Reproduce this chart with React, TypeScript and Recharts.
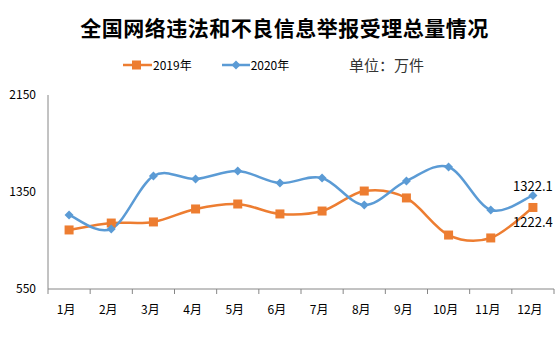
import { Line, LineChart, XAxis, YAxis } from "recharts";

// 月份与两年的受理量（万件）
const months = ["1月", "2月", "3月", "4月", "5月", "6月", "7月", "8月", "9月", "10月", "11月", "12月"];
const values2019 = [1037, 1094, 1103, 1210, 1251, 1169, 1193, 1358, 1301, 995, 971, 1222.4];
const values2020 = [1160, 1045, 1482, 1457, 1523, 1424, 1466, 1243, 1441, 1556, 1202, 1322.1];
const yTicks = [550, 1350, 2150];

const COLOR_2019 = "#ED7D31";
const COLOR_2020 = "#5B9BD5";
const COLOR_AXIS = "#868686";
const FONT = '"Noto Sans CJK SC", "Noto Sans", sans-serif';

const WIDTH = 557;
const HEIGHT = 353;
const PLOT_LEFT = 48;
const PLOT_RIGHT = 554;
const PLOT_BOTTOM = 289;
const BAND = (PLOT_RIGHT - PLOT_LEFT) / months.length;

const data = months.map((m, i) => ({
  month: m,
  y2019: values2019[i],
  y2020: values2020[i],
}));

// Excel 风格的平滑曲线（Catmull-Rom 转贝塞尔）
function excelSmooth(context: any) {
  let pts: [number, number][] = [];
  return {
    areaStart() {},
    areaEnd() {},
    lineStart() {
      pts = [];
    },
    point(x: number, y: number) {
      pts.push([+x, +y]);
    },
    lineEnd() {
      if (!pts.length) return;
      context.moveTo(pts[0][0], pts[0][1]);
      for (let i = 0; i < pts.length - 1; i++) {
        const p0 = pts[i - 1] || pts[i];
        const p1 = pts[i];
        const p2 = pts[i + 1];
        const p3 = pts[i + 2] || pts[i + 1];
        context.bezierCurveTo(
          p1[0] + (p2[0] - p0[0]) / 6,
          p1[1] + (p2[1] - p0[1]) / 6,
          p2[0] - (p3[0] - p1[0]) / 6,
          p2[1] - (p3[1] - p1[1]) / 6,
          p2[0],
          p2[1],
        );
      }
    },
  };
}

function SquareDot(props: any) {
  const { cx, cy } = props;
  if (cx == null || cy == null) return null;
  return <rect x={cx - 4.5} y={cy - 4.5} width={9} height={9} fill={COLOR_2019} />;
}

function DiamondDot(props: any) {
  const { cx, cy } = props;
  if (cx == null || cy == null) return null;
  return (
    <path
      d={`M${cx},${cy - 4.5} L${cx + 4.5},${cy} L${cx},${cy + 4.5} L${cx - 4.5},${cy} Z`}
      fill={COLOR_2020}
    />
  );
}

function makeLastLabel(dy: number) {
  return (props: any) => {
    const { x, y, index, value } = props;
    if (index !== months.length - 1) return null;
    return (
      <text x={x} y={y + dy} textAnchor="middle" fontSize={13} fill="#000" fontFamily={FONT}>
        {value}
      </text>
    );
  };
}

function MonthTick(props: any) {
  const { x, payload, index } = props;
  return (
    <g>
      <line x1={x - BAND / 2} y1={PLOT_BOTTOM} x2={x - BAND / 2} y2={PLOT_BOTTOM + 5} stroke={COLOR_AXIS} />
      {index === months.length - 1 && (
        <line x1={x + BAND / 2} y1={PLOT_BOTTOM} x2={x + BAND / 2} y2={PLOT_BOTTOM + 5} stroke={COLOR_AXIS} />
      )}
      <text x={x - 3} y={PLOT_BOTTOM + 25} textAnchor="middle" fontSize={12} fill="#000" fontFamily={FONT}>
        {payload.value}
      </text>
    </g>
  );
}

export default function App() {
  return (
    <div style={{ position: "absolute", left: 0, top: 0, width: WIDTH, height: HEIGHT, background: "#fff", fontFamily: FONT }}>
      <div
        style={{
          position: "absolute",
          left: 0,
          width: WIDTH,
          top: 13,
          textAlign: "center",
          fontSize: 21,
          fontWeight: 700,
          letterSpacing: 0.5,
          color: "#000",
          paddingLeft: 12,
          boxSizing: "border-box",
          lineHeight: "28px",
        }}
      >
        全国网络违法和不良信息举报受理总量情况
      </div>

      {/* 图例 */}
      <div style={{ position: "absolute", left: 123, top: 56, display: "flex", alignItems: "center", fontSize: 12, lineHeight: "18px" }}>
        <svg width={29} height={12}>
          <line x1={0} y1={6} x2={29} y2={6} stroke={COLOR_2019} strokeWidth={2.5} />
          <rect x={9} y={1.5} width={9} height={9} fill={COLOR_2019} />
        </svg>
        <span style={{ marginLeft: 1 }}>2019年</span>
        <svg width={28} height={12} style={{ marginLeft: 30 }}>
          <line x1={0} y1={6} x2={28} y2={6} stroke={COLOR_2020} strokeWidth={2.5} />
          <path d="M14,1.5 L18.5,6 L14,10.5 L9.5,6 Z" fill={COLOR_2020} />
        </svg>
        <span style={{ marginLeft: 1 }}>2020年</span>
      </div>
      <div style={{ position: "absolute", left: 349, top: 55, fontSize: 15, color: "#333", lineHeight: "20px" }}>
        单位：万件
      </div>

      <LineChart
        width={WIDTH}
        height={HEIGHT}
        data={data}
        margin={{ top: 95, right: WIDTH - PLOT_RIGHT, bottom: HEIGHT - PLOT_BOTTOM - 30, left: 0 }}
      >
        <XAxis
          dataKey="month"
          height={30}
          padding={{ left: BAND / 2, right: BAND / 2 }}
          axisLine={{ stroke: COLOR_AXIS }}
          tickLine={false}
          interval={0}
          tick={<MonthTick />}
        />
        <YAxis
          width={PLOT_LEFT}
          domain={[550, 2150]}
          ticks={yTicks}
          interval={0}
          axisLine={{ stroke: COLOR_AXIS }}
          tickLine={false}
          tickMargin={6}
          tick={{ fontSize: 12, fill: "#000", fontFamily: FONT }}
        />
        <Line
          dataKey="y2019"
          type={excelSmooth as any}
          stroke={COLOR_2019}
          strokeWidth={2.5}
          dot={<SquareDot />}
          activeDot={false}
          label={makeLastLabel(20)}
          isAnimationActive={false}
        />
        <Line
          dataKey="y2020"
          type={excelSmooth as any}
          stroke={COLOR_2020}
          strokeWidth={2.5}
          dot={<DiamondDot />}
          activeDot={false}
          label={makeLastLabel(-4)}
          isAnimationActive={false}
        />
      </LineChart>
    </div>
  );
}
